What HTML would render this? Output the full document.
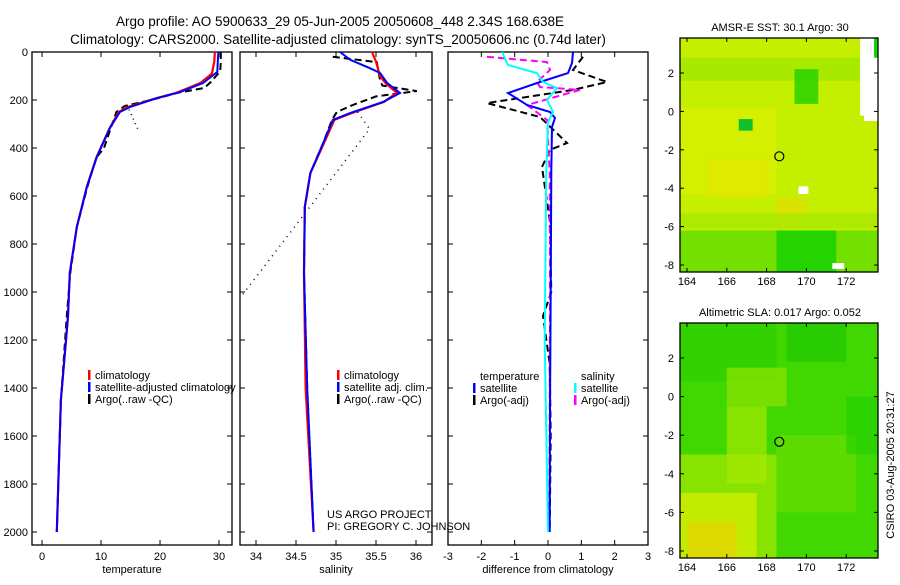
<!DOCTYPE html>
<html><head><meta charset="utf-8"><style>
body{margin:0;background:#fff;width:900px;height:580px;overflow:hidden}
svg{font-family:"Liberation Sans",sans-serif}
</style></head><body>
<svg id="fig" width="900" height="580" xmlns="http://www.w3.org/2000/svg">
<text x="340" y="26" font-size="13.5" text-anchor="middle">Argo profile: AO 5900633_29 05-Jun-2005 20050608_448 2.34S 168.638E</text>
<text x="338" y="44" font-size="13.5" text-anchor="middle">Climatology: CARS2000. Satellite-adjusted climatology: synTS_20050606.nc (0.74d later)</text>
<g id="maps"></g>
<g id="panels"></g>
<text x="327" y="518" font-size="11">US ARGO PROJECT</text>
<text x="327" y="530" font-size="11">PI: GREGORY C. JOHNSON</text>
<text transform="translate(894,465) rotate(-90)" font-size="11" text-anchor="middle">CSIRO 03-Aug-2005 20:31:27</text>
</svg>
<script>
// ---- data ----
const depthTicks=[0,200,400,600,800,1000,1200,1400,1600,1800,2000];
const tempTicks=[0,10,20,30];
const salTicks=[34,34.5,35,35.5,36];
const diffTicks=[-3,-2,-1,0,1,2,3];
const tClimD=[0,40,90,130,170,195,230,250,320,440,560,730,920,1100,1450,2000];
const tClimV=[29.3,29.2,28.8,26.8,22.8,19.0,14.5,13.0,11.4,9.2,7.6,5.9,4.7,4.4,3.2,2.5];
const tSatD=[0,40,83,129,167,192,229,250,317,437,562,729,921,1104,1450,2000];
const tSatV=[29.9,29.8,29.7,27.3,23.4,19.5,14.9,13.2,11.5,9.3,7.6,5.9,4.7,4.4,3.2,2.5];
const tArgoD=[0,40,80,125,150,170,200,225,250,320,400,440,560,730,920,1100,1450,2000];
const tArgoV=[30.3,30.3,30.2,28.6,27.5,23.0,18.5,14.0,12.6,11.6,10.5,9.2,7.7,5.9,4.8,4.2,3.2,2.5];
const tDotD=[221,325];
const tDotV=[14.4,16.3];
const sClimD=[0,40,100,130,170,208,254,283,379,504,646,921,1400,2000];
const sClimV=[35.45,35.5,35.55,35.62,35.76,35.6,35.2,34.98,34.85,34.68,34.61,34.6,34.62,34.72];
const sSatD=[0,33,67,87,129,171,208,254,283,379,504,646,921,1400,2000];
const sSatV=[35.05,35.18,35.42,35.55,35.64,35.8,35.59,35.18,34.96,34.84,34.68,34.61,34.6,34.64,34.72];
const sArgoD=[20,42,117,140,163,185,221,250,283,379,504,646,921,1400,2000];
const sArgoV=[34.96,35.51,35.55,35.58,36.01,35.5,35.21,35.01,34.95,34.84,34.68,34.61,34.6,34.64,34.72];
const sDotD=[250,321,1021];
const sDotV=[35.27,35.42,33.81];
const dTSatD=[0,46,88,125,171,221,250,275,312,500,1000,1500,2000];
const dTSatV=[0.75,0.72,0.6,-0.24,-1.2,-0.63,0.06,0.21,0.12,0.1,0.08,0.06,0.05];
const dSSatD=[0,54,88,125,150,200,250,292,500,1200,2000];
const dSSatV=[-1.38,-1.2,-0.33,-0.15,0.27,-0.03,0.15,0.0,-0.05,-0.1,0.0];
const dTArgoD=[20,75,125,158,213,271,379,408,479,700,1000,1100,1150,1300,1600,2000];
const dTArgoV=[1.05,0.75,1.77,0.75,-1.83,-0.24,0.57,0.06,-0.18,0.05,0.1,-0.15,-0.1,0.05,0.08,0.05];
const dSArgoD=[20,42,75,125,146,158,221,283,500,1000,1500,2000];
const dSArgoV=[-1.83,-0.03,0.06,-0.33,-0.24,0.96,-0.63,-0.03,0.05,0.06,0.05,0.04];
const latTicks=[2,0,-2,-4,-6,-8];
const lonTicks=[164,166,168,170,172];
const floatLon=168.638, floatLat=-2.34;

const NS="http://www.w3.org/2000/svg";
function mk(tag,attrs,parent,txt){const e=document.createElementNS(NS,tag);for(const k in attrs)e.setAttribute(k,attrs[k]);if(txt!==undefined)e.textContent=txt;parent.appendChild(e);return e;}
const Y0=52, PXM=0.24, YB=545;
const yD=d=>Y0+d*PXM;
const panels=document.getElementById('panels');

function panel(name,x0,x1,vmin,vmax,ticks,label,showY){
  const g=mk('g',{},panels);
  
  
  const xs=v=>x0+(v-vmin)/(vmax-vmin)*(x1-x0);
  const fr=mk('rect',{x:x0,y:Y0,width:x1-x0,height:YB-Y0,fill:'none',stroke:'#000','stroke-width':1.3},g);
  
  
  depthTicks.forEach(d=>{
    mk('line',{x1:x0,x2:x0+5,y1:yD(d),y2:yD(d),stroke:'#000'},g);
    mk('line',{x1:x1,x2:x1-5,y1:yD(d),y2:yD(d),stroke:'#000'},g);
    if(showY){const t=mk('text',{x:x0-4,y:yD(d)+4,'font-size':11,'text-anchor':'end'},g,String(d));
      
      }
  });
  ticks.forEach(v=>{
    mk('line',{x1:xs(v),x2:xs(v),y1:Y0,y2:Y0+5,stroke:'#000'},g);
    mk('line',{x1:xs(v),x2:xs(v),y1:YB,y2:YB-5,stroke:'#000'},g);
    const t=mk('text',{x:xs(v),y:YB+15,'font-size':11,'text-anchor':'middle'},g,String(v));
    
    
  });
  const lab=mk('text',{x:(x0+x1)/2,y:YB+28,'font-size':11,'text-anchor':'middle'},g,label);
  
  
  return {g,xs};
}
function line(P,D,V,color,dash,w,nm){
  const pts=D.map((d,i)=>P.xs(V[i]).toFixed(1)+','+yD(d).toFixed(1)).join(' ');
  const a={points:pts,fill:'none',stroke:color,'stroke-width':w||2};
  if(dash)a['stroke-dasharray']=dash;
  const p=mk('polyline',a,P.g);
  
  
}
function legend(g,x,y,items){
  items.forEach((it,i)=>{
    if(it.c){const r=mk('rect',{x:x,y:y+i*12-9,width:2.5,height:10,fill:it.c},g);
      
      }
    const t=mk('text',{x:x+7,y:y+i*12,'font-size':11},g,it.t);
    
    
  });
}
const P1=panel('temperature-panel',32,232,-1.7,32.2,tempTicks,'temperature',true);
line(P1,tDotD,tDotV,'#000','1 4',1.5,'temperature-dotted');
line(P1,tArgoD,tArgoV,'#000','7 4',2,'temperature-argo');
line(P1,tClimD,tClimV,'#f00',null,2.2,'temperature-climatology');
line(P1,tSatD,tSatV,'#00f',null,2,'temperature-satellite');
legend(P1.g,88,379,[{c:'#f00',t:'climatology'},{c:'#00f',t:'satellite-adjusted climatology'},{c:'#000',t:'Argo(..raw -QC)'}]);

const P2=panel('salinity-panel',240,432,33.8,36.2,salTicks,'salinity',false);
line(P2,sDotD,sDotV,'#000','1 5',1.5,'salinity-dotted');
line(P2,sArgoD,sArgoV,'#000','7 4',2,'salinity-argo');
line(P2,sClimD,sClimV,'#f00',null,2.2,'salinity-climatology');
line(P2,sSatD,sSatV,'#00f',null,2,'salinity-satellite');
legend(P2.g,337,379,[{c:'#f00',t:'climatology'},{c:'#00f',t:'satellite adj. clim.'},{c:'#000',t:'Argo(..raw -QC)'}]);

const P3=panel('difference-panel',448,648,-3,3,diffTicks,'difference from climatology',false);
line(P3,dTArgoD,dTArgoV,'#000','7 4',2,'temp-diff-argo');
line(P3,dSArgoD,dSArgoV,'#f0f','7 4',2,'sal-diff-argo');
line(P3,dTSatD,dTSatV,'#00f',null,2,'temp-diff-satellite');
line(P3,dSSatD,dSSatV,'#0ff',null,2,'sal-diff-satellite');
legend(P3.g,473,380,[{t:'temperature'},{c:'#00f',t:'satellite'},{c:'#000',t:'Argo(-adj)'}]);
legend(P3.g,574,380,[{t:'salinity'},{c:'#0ff',t:'satellite'},{c:'#f0f',t:'Argo(-adj)'}]);

// maps
const maps=document.getElementById('maps');
function map(name,y0,y1,title,base,blobs){
  const g=mk('g',{},maps);
  
  
  const x0=680,x1=878;
  const lx=l=>687+(l-164)*19.9;
  const ly=l=>(y0+35)+(2-l)*((y1-y0-42)/10);
  const clip=mk('clipPath',{id:name+'-clip'},g);
  mk('rect',{x:x0,y:y0,width:x1-x0,height:y1-y0},clip);
  const cg=mk('g',{'clip-path':'url(#'+name+'-clip)'},g);
  mk('rect',{x:x0,y:y0,width:x1-x0,height:y1-y0,fill:base},cg);
  blobs.forEach(b=>{const r=mk('rect',{x:lx(b[0]),y:ly(b[1]),width:b[2]*19.9,height:b[3]*19.3,fill:b[4],opacity:b[5]||0.8},cg);
    
    });
  const fr=mk('rect',{x:x0,y:y0,width:x1-x0,height:y1-y0,fill:'none',stroke:'#000','stroke-width':1.3},g);
  
  
  latTicks.forEach(l=>{mk('line',{x1:x0,x2:x0+4,y1:ly(l),y2:ly(l),stroke:'#000'},g);mk('line',{x1:x1,x2:x1-4,y1:ly(l),y2:ly(l),stroke:'#000'},g);
    const t=mk('text',{x:x0-6,y:ly(l)+4,'font-size':11,'text-anchor':'end'},g,String(l));
    
    });
  lonTicks.forEach(l=>{mk('line',{x1:lx(l),x2:lx(l),y1:y1,y2:y1-4,stroke:'#000'},g);mk('line',{x1:lx(l),x2:lx(l),y1:y0,y2:y0+4,stroke:'#000'},g);
    const t=mk('text',{x:lx(l),y:y1+13,'font-size':11,'text-anchor':'middle'},g,String(l));
    
    });
  const tt=mk('text',{x:780,y:y0-7,'font-size':11,'text-anchor':'middle'},g,title);
  
  
  const c=mk('circle',{cx:lx(floatLon),cy:ly(floatLat),r:4.5,fill:'none',stroke:'#000','stroke-width':1.2},g);
  
  
  return {g,lx,ly};
}
map('sst-map',38,272,'AMSR-E SST: 30.1 Argo: 30','#c4f000',[
 [163.5,2.8,10,1.2,'#a0e800'],[169.4,2.2,1.2,1.8,'#20d000'],[163.5,0.2,5,4.5,'#dcee00',0.7],[165,-2.5,3,2,'#e8e400',0.6],
 [168.5,-4.5,1.5,1.5,'#e8d800',0.6],[163.5,-5.3,10.5,0.8,'#a8e800'],[163.5,-6.2,10.5,2.5,'#60dc00'],[168.5,-6.2,3,2.5,'#10d000',0.8],
 [166.6,-0.4,0.7,0.6,'#10c030',1],[172.7,3.8,2,4,'#ffffff',1],[173.4,3.8,1,1,'#10d000',1],[172.9,0,0.8,0.5,'#ffffff',1],[171.3,-7.9,0.6,0.3,'#ffffff',1],[169.6,-3.9,0.5,0.4,'#ffffff',1]]);
map('sla-map',323,558,'Altimetric SLA: 0.017 Argo: 0.052','#40d800',[
 [163.5,3.8,5,3,'#30d000'],[166,1.5,3,2,'#90e400',0.7],[166,-0.5,2,4,'#b8ec00',0.6],[163.5,-3,5,6,'#a8e800',0.7],
 [168.5,-2,4,4,'#70e000',0.6],[163.5,-5,4,3.5,'#d0ee00',0.8],[164,-6.5,2.5,2,'#e8d000',0.7],[169,3.8,3,2,'#20c800',0.7],[172,0,2,3,'#20d000',0.6]]);
</script>
</body></html>
